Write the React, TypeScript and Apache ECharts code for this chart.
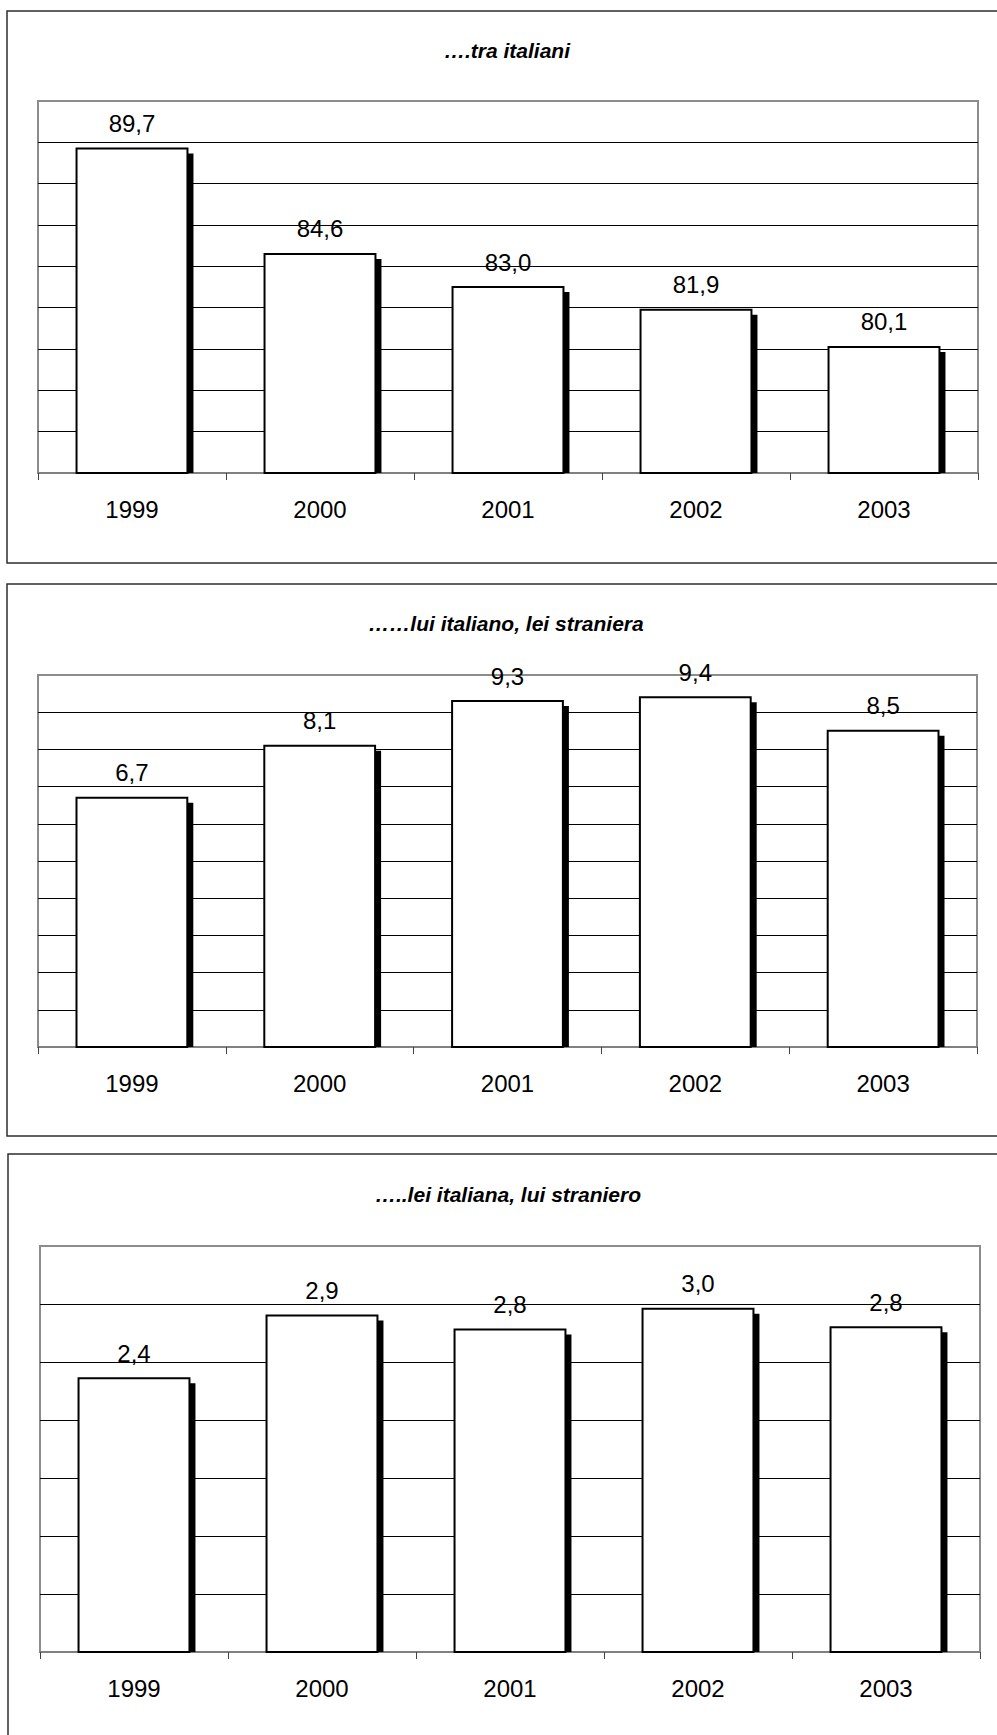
import React, { useEffect, useRef } from "react";
import * as echarts from "echarts";

const categories = ["1999", "2000", "2001", "2002", "2003"];

const titleItaliani = "….tra italiani";
const titleLuiItaliano = "……lui italiano, lei straniera";
const titleLeiItaliana = "…..lei italiana, lui straniero";

const valuesItaliani = [89.7, 84.6, 83.0, 81.9, 80.1];
const valuesLuiItaliano = [6.7, 8.1, 9.3, 9.4, 8.5];
const valuesLeiItaliana = [2.36, 2.9, 2.78, 2.96, 2.8];

const yMins = [74, 0, 0];
const yMaxs = [92, 10, 3.5];
const yIntervals = [2, 1, 0.5];

const FONT = '"Liberation Sans", Arial, Helvetica, sans-serif';

function fmt(v: number) {
  return v.toFixed(1).replace(".", ",");
}

function makeRenderItem(yMin: number) {
  return (params: any, api: any) => {
    const idx = api.value(0);
    const val = api.value(1);
    const top = api.coord([idx, val]);
    const base = api.coord([idx, yMin]);
    const bw = api.size([1, 0])[0] * 0.59;
    const x = top[0] - bw / 2;
    const h = base[1] - top[1];
    return {
      type: "group",
      children: [
        {
          type: "rect",
          shape: { x: x + 6, y: top[1] + 5, width: bw, height: Math.max(0, h - 5) },
          style: { fill: "#000" },
        },
        {
          type: "rect",
          shape: { x, y: top[1], width: bw, height: h },
          style: { fill: "#fff", stroke: "#000", lineWidth: 2 },
        },
        {
          type: "text",
          x: top[0],
          y: top[1] - 25,
          style: {
            text: fmt(val),
            font: `24px ${FONT}`,
            fill: "#000",
            align: "center",
            verticalAlign: "middle",
            textAlign: "center",
            textVerticalAlign: "middle",
          },
        },
      ],
    };
  };
}

export default function App() {
  const ref = useRef<HTMLDivElement>(null);

  useEffect(() => {
    if (!ref.current) return;
    const chart = echarts.init(ref.current, null, { renderer: "svg" });

    const grids = [
      { left: 38, top: 101, width: 940, height: 372 },
      { left: 38, top: 675, width: 939, height: 372 },
      { left: 40, top: 1246, width: 940, height: 406 },
    ];
    const seriesValues = [valuesItaliani, valuesLuiItaliano, valuesLeiItaliana];
    const titles = [titleItaliani, titleLuiItaliano, titleLeiItaliana];
    const titlePos = [
      [507, 50],
      [506, 623],
      [508, 1194],
    ];
    const panels = [
      { x: 7, y: 11, width: 1000, height: 552 },
      { x: 7, y: 584, width: 1000, height: 552 },
      { x: 8, y: 1154, width: 1000, height: 600 },
    ];

    const option: any = {
      animation: false,
      backgroundColor: "#fff",
      grid: grids.map((g) => ({
        ...g,
        show: true,
        backgroundColor: "transparent",
        borderColor: "#8c8c8c",
        borderWidth: 2,
        containLabel: false,
      })),
      xAxis: grids.map((_, i) => ({
        type: "category",
        gridIndex: i,
        data: categories,
        boundaryGap: true,
        axisLine: { show: true, lineStyle: { color: "#808080", width: 2 } },
        axisTick: {
          show: true,
          interval: 0,
          alignWithLabel: false,
          length: 7,
          lineStyle: { color: "#444", width: 1 },
        },
        axisLabel: {
          interval: 0,
          margin: 24,
          color: "#000",
          fontSize: 24,
          fontFamily: FONT,
        },
        splitLine: { show: false },
      })),
      yAxis: grids.map((_, i) => ({
        type: "value",
        gridIndex: i,
        min: yMins[i],
        max: yMaxs[i],
        interval: yIntervals[i],
        axisLine: { show: false },
        axisTick: { show: false },
        axisLabel: { show: false },
        splitLine: {
          show: true,
          showMinLine: false,
          showMaxLine: false,
          lineStyle: { color: "#000", width: 1 },
        },
      })),
      series: seriesValues.map((vals, i) => ({
        type: "custom",
        xAxisIndex: i,
        yAxisIndex: i,
        encode: { x: 0, y: 1 },
        data: vals.map((v, j) => [j, v]),
        renderItem: makeRenderItem(yMins[i]),
        clip: false,
        z: 5,
      })),
      graphic: [
        ...panels.map((p) => ({
          type: "rect",
          z: -1,
          shape: p,
          style: { fill: "none", stroke: "#2e2e2e", lineWidth: 1.5 },
          silent: true,
        })),
        ...titles.map((t, i) => ({
          type: "text",
          x: titlePos[i][0],
          y: titlePos[i][1],
          style: {
            text: t,
            font: `italic bold 21px ${FONT}`,
            fill: "#000",
            align: "center",
            verticalAlign: "middle",
            textAlign: "center",
            textVerticalAlign: "middle",
          },
        })),
      ],
    };

    chart.setOption(option);
    return () => chart.dispose();
  }, []);

  return (
    <div
      ref={ref}
      style={{ position: "absolute", left: 0, top: 0, width: 997, height: 1735 }}
    />
  );
}
